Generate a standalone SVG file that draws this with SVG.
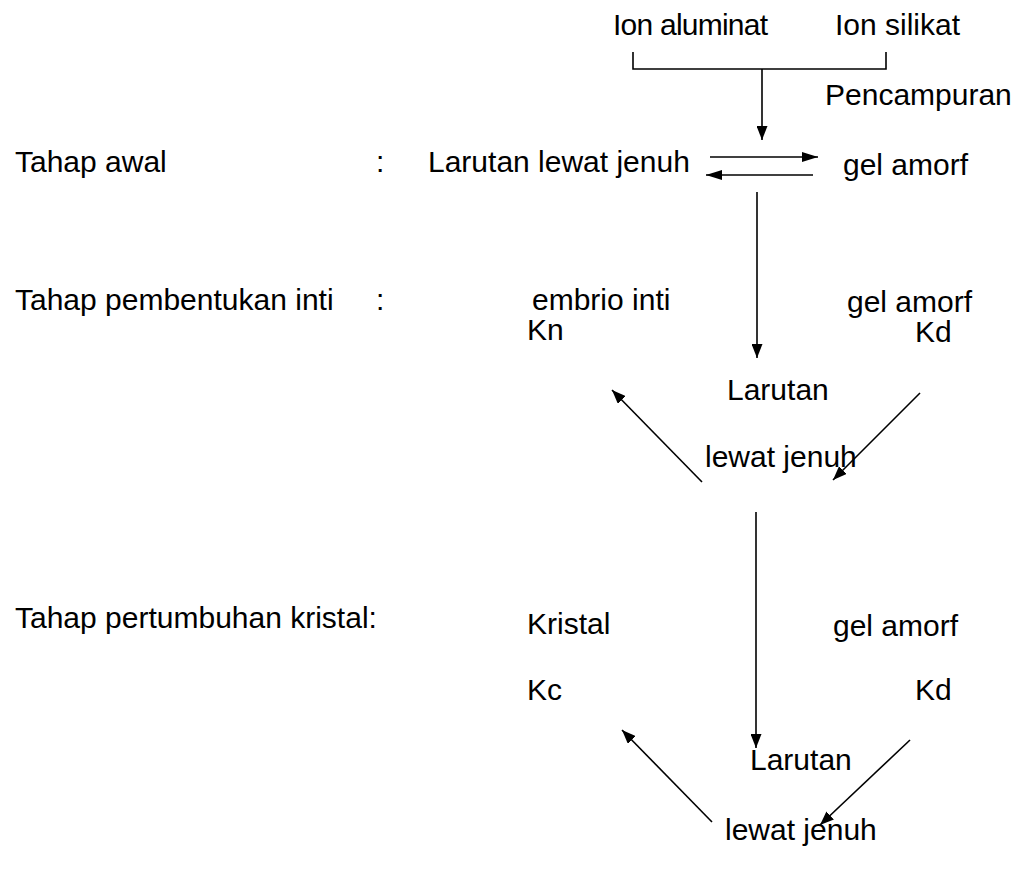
<svg xmlns="http://www.w3.org/2000/svg" width="1026" height="873" viewBox="0 0 1026 873">
<style>
text{font-family:"Liberation Sans",Arial,sans-serif;font-size:30px;fill:#000}
.c{stroke:#000;stroke-width:1.6;fill:none}
</style>
<defs>
<marker id="ah" viewBox="0 0 14 11" refX="14" refY="5.5" markerWidth="14" markerHeight="11" markerUnits="userSpaceOnUse" orient="auto">
<path d="M0,0 L14,5.5 L0,11 z" fill="#000"/>
</marker>
<marker id="ahb" viewBox="0 0 16 10" refX="16" refY="5" markerWidth="16" markerHeight="10" markerUnits="userSpaceOnUse" orient="auto">
<path d="M0,0 L16,5 L0,10 z" fill="#000"/>
</marker>
</defs>
<rect width="1026" height="873" fill="#fff"/>
<g id="stage-labels">
<text x="15" y="172">Tahap awal</text>
<text x="376" y="172">:</text>
<text x="15" y="310">Tahap pembentukan inti</text>
<text x="376" y="310">:</text>
<text x="15" y="628">Tahap pertumbuhan kristal:</text>
</g>
<g id="n-ion-aluminat"><text x="613" y="35" textLength="155">Ion aluminat</text></g>
<g id="n-ion-silikat"><text x="835" y="35">Ion silikat</text></g>
<g id="n-pencampuran"><text x="825" y="105">Pencampuran</text></g>
<g id="n-larutan1"><text x="428" y="172">Larutan lewat jenuh</text></g>
<g id="n-gel1"><text x="843" y="175">gel amorf</text></g>
<g id="n-embrio"><text x="532" y="310">embrio inti</text></g>
<g id="n-gel2"><text x="847" y="312">gel amorf</text></g>
<g id="n-kn"><text x="527" y="340">Kn</text></g>
<g id="n-kd1"><text x="915" y="342">Kd</text></g>
<g id="n-larutan2"><text x="727" y="400">Larutan</text><text x="705" y="467">lewat jenuh</text></g>
<g id="n-kristal"><text x="527" y="634">Kristal</text></g>
<g id="n-gel3"><text x="833" y="636">gel amorf</text></g>
<g id="n-kc"><text x="527" y="700">Kc</text></g>
<g id="n-kd2"><text x="915" y="700">Kd</text></g>
<g id="n-larutan3"><text x="750" y="770">Larutan</text><text x="725" y="840">lewat jenuh</text></g>
<g id="connectors">
<path class="c" d="M633,52 V69 H886 V52"/>
<path class="c" d="M762,69 V140" marker-end="url(#ah)"/>
<path class="c" d="M710,157 H818" marker-end="url(#ahb)"/>
<path class="c" d="M813,175 H706" marker-end="url(#ahb)"/>
<path class="c" d="M757,192 V358" marker-end="url(#ah)"/>
<path class="c" d="M702,482 L612,390" marker-end="url(#ah)"/>
<path class="c" d="M920,393 L833,480" marker-end="url(#ah)"/>
<path class="c" d="M756,512 V748" marker-end="url(#ah)"/>
<path class="c" d="M712,822 L622,730" marker-end="url(#ah)"/>
<path class="c" d="M910,740 L820,825" marker-end="url(#ah)"/>
</g>
</svg>
